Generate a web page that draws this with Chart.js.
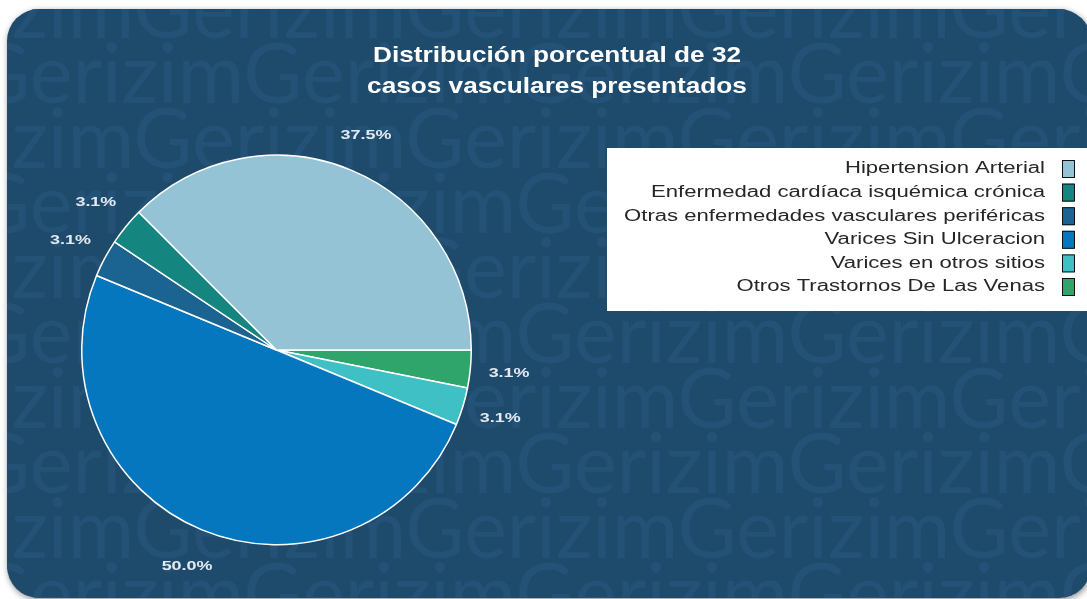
<!DOCTYPE html>
<html>
<head>
<meta charset="utf-8">
<script src="https://cdn.jsdelivr.net/npm/chart.js@4.4.0/dist/chart.umd.min.js"></script>
<style>
  html, body { margin: 0; padding: 0; background: #ffffff; }
  #wrap { position: relative; width: 1087px; height: 599px; }
</style>
</head>
<body>
<div id="wrap"><canvas id="casesPieCanvas"></canvas></div>
<script>
// data (32 cases in total)
const categories = [
    "Hipertension Arterial",
    "Enfermedad cardíaca isquémica crónica",
    "Otras enfermedades vasculares periféricas",
    "Varices Sin Ulceracion",
    "Varices en otros sitios",
    "Otros Trastornos De Las Venas"
];
const caseCounts = [12, 1, 1, 16, 1, 1];
const sliceColors = ['#93c3d5', '#15857f', '#1b6391', '#0477be', '#3ec0c4', '#2fa56c'];
const titleLines = ["Distribución porcentual de 32", "casos vasculares presentados"];

const totalCases = caseCounts.reduce((a, b) => a + b, 0);

// the reference goes counter-clockwise from 3 o'clock, Chart.js goes clockwise,
// so feed the slices reversed and start at 90 degrees
const pieLabels = categories.slice().reverse();
const pieValues = caseCounts.slice().reverse();
const pieColors = sliceColors.slice().reverse();

// text in the reference is drawn a bit wide, so stretch it horizontally
function wideText(ctx, text, x, y, stretch, align) {
    ctx.save();
    ctx.translate(x, y);
    ctx.scale(stretch, 1);
    ctx.textAlign = align;
    ctx.fillText(text, 0, 0);
    ctx.restore();
}

// dark rounded panel with the faint "Gerizim" watermark
const panelBackground = {
    id: 'panelBackground',
    beforeDraw(chart) {
        const ctx = chart.ctx;
        ctx.save();
        ctx.beginPath();
        ctx.roundRect(7, 9, 1084, 589, 32);
        ctx.shadowColor = 'rgba(0,0,0,0.45)';
        ctx.shadowBlur = 6;
        ctx.shadowOffsetX = 1;
        ctx.shadowOffsetY = 2;
        ctx.fillStyle = '#1e4a6c';
        ctx.fill();
        ctx.shadowColor = 'transparent';
        ctx.clip();

        ctx.fillStyle = '#245277';
        ctx.font = '84px Lato, "DejaVu Sans", sans-serif';
        ctx.textBaseline = 'alphabetic';
        const period = ctx.measureText('Gerizim').width;
        const sx = 273 / period;
        for (let row = 0; row < 10; row++) {
            const baseY = 38 + row * 65;
            const gX = (row % 2 === 0) ? 135 : 245;
            ctx.save();
            ctx.translate(gX - 273 * 2, baseY);
            ctx.scale(sx, 1);
            ctx.fillText('Gerizim'.repeat(8), 0, 0);
            ctx.restore();
        }
        ctx.restore();
    }
};

// title, percentage labels and the white legend box
const pieDecorations = {
    id: 'pieDecorations',
    afterDatasetsDraw(chart) {
        const ctx = chart.ctx;
        ctx.save();
        ctx.textBaseline = 'middle';

        // title
        ctx.fillStyle = '#ffffff';
        ctx.font = 'bold 22px "Liberation Sans", Arial, sans-serif';
        titleLines.forEach((line, i) => wideText(ctx, line, 557, 56 + i * 31, 1.19, 'center'));

        // percentage labels outside each slice
        ctx.fillStyle = '#e3eaf1';
        ctx.font = 'bold 13px "Liberation Sans", Arial, sans-serif';
        const meta = chart.getDatasetMeta(0);
        meta.data.forEach((arc, i) => {
            const mid = (arc.startAngle + arc.endAngle) / 2;
            const r = arc.outerRadius * 1.2;
            const pct = (pieValues[i] / totalCases * 100).toFixed(1) + '%';
            wideText(ctx, pct, arc.x + Math.cos(mid) * r, arc.y + Math.sin(mid) * r + 1, 1.38, 'center');
        });

        // legend
        ctx.fillStyle = '#ffffff';
        ctx.fillRect(607, 148, 480, 163);
        ctx.font = '16px "Liberation Sans", Arial, sans-serif';
        categories.forEach((name, i) => {
            const y = 169 + i * 23.6;
            ctx.fillStyle = '#262626';
            wideText(ctx, name, 1045, y, 1.38, 'right');
            ctx.fillStyle = sliceColors[i];
            ctx.fillRect(1062, y - 9, 12, 18);
            ctx.strokeStyle = '#111111';
            ctx.lineWidth = 1;
            ctx.strokeRect(1062.5, y - 8.5, 12, 17);
        });
        ctx.restore();
    }
};

let ctx = document.getElementById('casesPieCanvas').getContext('2d');
let casesPieChart = new Chart(ctx, {
    type: 'pie',
    data: {
        labels: pieLabels,
        datasets: [{
            data: pieValues,
            backgroundColor: pieColors,
            borderColor: '#ffffff',
            borderWidth: 1.5
        }]
    },
    plugins: [panelBackground, pieDecorations],
    options: {
        responsive: true,
        maintainAspectRatio: false,
        animation: false,
        rotation: 90,
        layout: {
            padding: { left: 81, right: 615, top: 154, bottom: 53 }
        },
        plugins: {
            legend: { display: false },
            title: { display: false },
            tooltip: { enabled: false }
        }
    }
});
</script>
</body>
</html>
